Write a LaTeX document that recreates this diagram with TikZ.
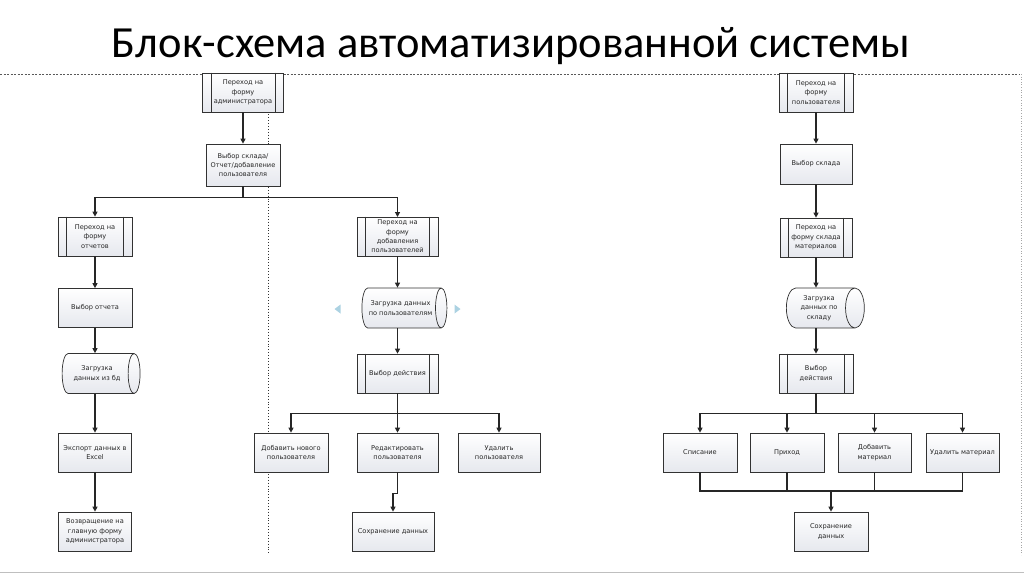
\documentclass[tikz,border=0pt]{standalone}
\usepackage{fontspec}
\setmainfont{Carlito}
\newfontfamily\boxfont{DejaVu Sans}
\usetikzlibrary{arrows.meta,shapes.geometric}
\definecolor{boxedge}{RGB}{50,50,50}
\definecolor{boxshade}{RGB}{230,232,238}
\definecolor{navblue}{RGB}{172,210,226}

\begin{document}
\begin{tikzpicture}[x=1pt, y=-1pt,
    box/.style={draw=boxedge, line width=0.7pt, top color=white, bottom color=boxshade,
      inner sep=1pt, align=center, minimum height=39pt, text=black!85,
      font=\boxfont\fontsize{6.6}{9.3}\selectfont},
    drum/.style={box, cylinder, shape border rotate=0, shape aspect=0.7,
      minimum width=40pt},
    boxline/.style={draw=boxedge, line width=0.7pt},
    link/.style={line width=1.1pt, black!85},
    conn/.style={link, -{Triangle[length=5pt, width=5pt]}},
    sepline/.style={line width=0.8pt, black!65, dash pattern=on 2pt off 1.5pt}]
  % A predefined process: #1 = name, #2 = center, #3 = width, #4 = text.
  \newcommand{\predefbox}[4]{%
    \node[box, minimum width=#3] (#1) at (#2) {#4};
    \draw[boxline] ([xshift=9pt]#1.north west) -- ([xshift=9pt]#1.south west);
    \draw[boxline] ([xshift=-9pt]#1.north east) -- ([xshift=-9pt]#1.south east);}

  \useasboundingbox (0,0) rectangle (1024,574);
  \node (title) at (511,46) {\fontsize{44.5}{48}\selectfont Блок-схема автоматизированной системы};

  % slide frame
  \draw[sepline] (0,74) -- (1020,74);
  \draw[black!35, line width=0.6pt, dotted] (1021,74) -- (1021,555);
  \draw[black!25, line width=0.6pt] (0,572) -- (1024,572);
  \draw[black!80, line width=0.9pt, dotted] (268,97) -- (268,555);

  % administrator: reports
  \predefbox{adm}{243,92.5}{81pt}{Переход на\\форму\\администратора}
  \node[box, minimum width=74pt, minimum height=42pt] (sel) at (243,165) {Выбор склада/\\Отчет/добавление\\пользователя};
  \predefbox{rep}{95,236.5}{74pt}{Переход на\\форму\\отчетов}
  \node[box, minimum width=74pt] (rsel) at (95,308) {Выбор отчета};
  \node[drum, minimum height=78pt] (rload) at (97,373.5) {Загрузка\\данных из бд};
  \node[box, minimum width=73pt] (exp) at (95,452.5) {Экспорт данных в\\Excel};
  \node[box, minimum width=73pt] (back) at (95,531.5) {Возвращение на\\главную форму\\администратора};

  \draw[conn] (adm) -- (sel);
  \draw[conn] (sel.south) -- ++(0,11) -| (rep.north);
  \draw[conn] (sel.south) -- ++(0,11) -| (397.5,217);
  \draw[conn] (rep) -- (rsel);
  \draw[conn] (rsel.south) -- (rsel.south |- rload.north);
  \draw[conn] (exp.north |- rload.south) -- (exp.north);
  \draw[conn] (exp) -- (back);

  % administrator: users
  \predefbox{uadd}{397.5,236.5}{81pt}{Переход на\\форму\\добавления\\пользователей}
  \node[drum, minimum height=85pt] (uload) at (400.5,308) {Загрузка данных\\по пользователям};
  \predefbox{uact}{397.5,373.5}{81pt}{Выбор действия}
  \node[box, minimum width=74pt] (unew) at (291,452.5) {Добавить нового\\пользователя};
  \node[box, minimum width=81pt] (uedit) at (397.5,452.5) {Редактировать\\пользователя};
  \node[box, minimum width=82pt] (udel) at (499,452.5) {Удалить\\пользователя};
  \node[box, minimum width=82pt] (usave) at (393,531.5) {Сохранение данных};

  \draw[conn] (uadd.south) -- (uadd.south |- uload.north);
  \draw[conn] (uact.north |- uload.south) -- (uact.north);
  \draw[conn] (uact.south) -- ++(0,20) -| (unew.north);
  \draw[conn] (uact.south) -- (uedit.north);
  \draw[conn] (uact.south) -- ++(0,20) -| (udel.north);
  \draw[conn] (uedit.south) -- ++(0,21) -| (usave.north);
  \fill[navblue] (334.5,309) -- (340.5,304.5) -- (340.5,313.5) -- cycle;
  \fill[navblue] (460.5,309) -- (454.5,304.5) -- (454.5,313.5) -- cycle;

  % user: warehouse
  \predefbox{user}{816,92.5}{74pt}{Переход на\\форму\\пользователя}
  \node[box, minimum width=72pt, minimum height=40pt] (wsel) at (816,164) {Выбор склада};
  \predefbox{wmat}{816,237.5}{72pt}{Переход на\\форму склада\\материалов}
  \node[drum, minimum height=78pt] (wload) at (819,308) {Загрузка\\данных по\\складу};
  \predefbox{wact}{816,373.5}{74pt}{Выбор\\действия}
  \node[box, minimum width=74pt] (off) at (700,452.5) {Списание};
  \node[box, minimum width=74pt] (inc) at (787,452.5) {Приход};
  \node[box, minimum width=73pt] (addm) at (874.5,452.5) {Добавить\\материал};
  \node[box, minimum width=73pt] (delm) at (962.5,452.5) {Удалить материал};
  \node[box, minimum width=74pt] (wsave) at (831,531.5) {Сохранение\\данных};
  \coordinate (merge) at (831,491);

  \draw[conn] (user) -- (wsel);
  \draw[conn] (wsel) -- (wmat);
  \draw[conn] (wmat.south) -- (wmat.south |- wload.north);
  \draw[conn] (wact.north |- wload.south) -- (wact.north);
  \foreach \act in {off, inc, addm, delm}
    \draw[conn] (wact.south) -- ++(0,20.5) -| (\act.north);
  \draw[link] (off.south) |- (merge) -| (delm.south);
  \draw[link] (inc.south) -- (inc.south |- merge);
  \draw[link] (addm.south) -- (addm.south |- merge);
  \draw[conn] (merge) -- (wsave.north);
\end{tikzpicture}
\end{document}
